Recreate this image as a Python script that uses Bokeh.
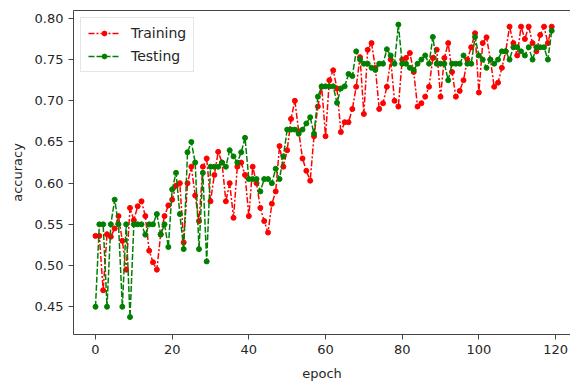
from bokeh.plotting import figure
from bokeh.models import Range1d, LinearAxis, FixedTicker, Legend, LegendItem, CustomJSTickFormatter
from bokeh.embed import file_html
from bokeh.resources import INLINE

epochs = list(range(120))

training = [
    0.536, 0.536, 0.470, 0.538, 0.535, 0.545, 0.560, 0.530, 0.495, 0.570,
    0.555, 0.572, 0.578, 0.560, 0.518, 0.504, 0.495, 0.538, 0.560, 0.573,
    0.580, 0.597, 0.600, 0.528, 0.600, 0.620, 0.585, 0.554, 0.620, 0.630,
    0.578, 0.610, 0.638, 0.625, 0.578, 0.600, 0.558, 0.620, 0.625, 0.610,
    0.560, 0.620, 0.600, 0.570, 0.554, 0.540, 0.575, 0.590, 0.645, 0.620,
    0.640, 0.678, 0.700, 0.663, 0.630, 0.615, 0.603, 0.657, 0.693, 0.717,
    0.657, 0.725, 0.737, 0.715, 0.662, 0.674, 0.674, 0.690, 0.717, 0.753,
    0.684, 0.762, 0.770, 0.740, 0.690, 0.697, 0.717, 0.750, 0.700, 0.693,
    0.750, 0.752, 0.758, 0.735, 0.693, 0.697, 0.705, 0.717, 0.752, 0.762,
    0.705, 0.752, 0.770, 0.735, 0.705, 0.712, 0.725, 0.750, 0.765, 0.782,
    0.710, 0.770, 0.777, 0.750, 0.717, 0.722, 0.740, 0.760, 0.790, 0.770,
    0.755, 0.790, 0.775, 0.790, 0.770, 0.760, 0.780, 0.790, 0.770, 0.790,
]

testing = [
    0.450, 0.550, 0.550, 0.450, 0.550, 0.580, 0.550, 0.450, 0.550, 0.4375,
    0.550, 0.550, 0.550, 0.5375, 0.550, 0.550, 0.5625, 0.5375, 0.550, 0.5225,
    0.5925, 0.6125, 0.5625, 0.520, 0.6375, 0.650, 0.625, 0.520, 0.6125, 0.505,
    0.620, 0.620, 0.620, 0.625, 0.620, 0.640, 0.6325, 0.625, 0.6375, 0.655,
    0.605, 0.605, 0.605, 0.590, 0.605, 0.605, 0.600, 0.6175, 0.605, 0.6325,
    0.665, 0.665, 0.665, 0.660, 0.665, 0.6725, 0.680, 0.660, 0.705, 0.7175,
    0.7175, 0.7175, 0.7175, 0.6975, 0.715, 0.7175, 0.7325, 0.730, 0.760, 0.750,
    0.745, 0.745, 0.740, 0.7375, 0.745, 0.745, 0.7625, 0.755, 0.745, 0.7925,
    0.745, 0.745, 0.740, 0.7375, 0.745, 0.750, 0.755, 0.745, 0.7775, 0.745,
    0.745, 0.745, 0.725, 0.745, 0.745, 0.745, 0.755, 0.745, 0.745, 0.7775,
    0.755, 0.750, 0.740, 0.750, 0.745, 0.750, 0.760, 0.760, 0.750, 0.765,
    0.765, 0.760, 0.755, 0.765, 0.750, 0.765, 0.765, 0.765, 0.750, 0.785,
]

x_ticks = [0, 20, 40, 60, 80, 100, 120]
y_ticks = [0.45, 0.50, 0.55, 0.60, 0.65, 0.70, 0.75, 0.80]

FONT = "DejaVu Sans"
TXT = "#262626"

p = figure(width=570, height=383, output_backend="svg", toolbar_location=None,
           x_range=Range1d(-5.74, 123.9), y_range=Range1d(0.4163, 0.8096),
           min_border_left=73, min_border_right=0, min_border_top=10,
           min_border_bottom=46, background_fill_color="white",
           border_fill_color="white")
p.outline_line_color = None
p.grid.visible = False

for ax in (p.xaxis, p.yaxis):
    ax.major_label_text_font = FONT
    ax.major_label_text_font_size = "13px"
    ax.major_label_text_color = TXT
    ax.axis_label_text_font = FONT
    ax.axis_label_text_font_size = "13px"
    ax.axis_label_text_font_style = "normal"
    ax.axis_label_text_color = TXT
    ax.axis_line_color = "#444444"
    ax.major_tick_line_color = "#444444"
    ax.major_tick_out = 5
    ax.major_tick_in = 0
    ax.minor_tick_line_color = None

p.xaxis.axis_label_standoff = 9
p.yaxis.axis_label_standoff = 7
p.xaxis.ticker = FixedTicker(ticks=x_ticks)
p.yaxis.ticker = FixedTicker(ticks=y_ticks)
p.yaxis.formatter = CustomJSTickFormatter(code="return tick.toFixed(2);")
p.xaxis.axis_label = "epoch"
p.yaxis.axis_label = "accuracy"

top = LinearAxis(ticker=FixedTicker(ticks=[]), major_label_text_font_size="0px",
                 axis_line_color="#444444", major_tick_line_color=None,
                 minor_tick_line_color=None)
p.add_layout(top, "above")

l1 = p.line(epochs, training, line_color="#ff0000", line_width=1.5, line_dash="6 2 2 2")
s1 = p.scatter(epochs, training, size=5, fill_color="#ff0000", line_color="#ff0000")
l2 = p.line(epochs, testing, line_color="#008000", line_width=1.5, line_dash="6 2")
s2 = p.scatter(epochs, testing, size=5, fill_color="#008000", line_color="#008000")

legend = Legend(items=[LegendItem(label="Training", renderers=[l1, s1]),
                       LegendItem(label="Testing", renderers=[l2, s2])],
                location="top_left", margin=7, padding=7, spacing=7,
                glyph_width=32, glyph_height=12, label_standoff=11,
                label_text_font=FONT, label_text_font_size="14px",
                label_text_color=TXT, border_line_color="#cccccc",
                background_fill_alpha=0.8)
p.add_layout(legend, "center")

open("out.html", "w").write(file_html(p, INLINE))
